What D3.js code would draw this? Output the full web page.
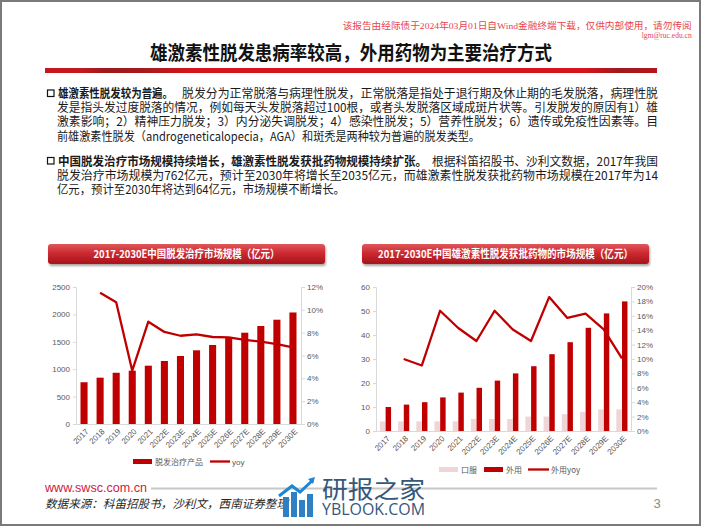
<!DOCTYPE html>
<html><head><meta charset="utf-8">
<script src="https://cdn.jsdelivr.net/npm/d3@7"></script>
<style>body{margin:0;background:#fff;} svg{display:block;}</style>
</head><body>
<svg id="c" width="702" height="527"></svg>
<script>
// ---------------- data ----------------
const years = ["2017","2018","2019","2020","2021","2022E","2023E","2024E","2025E","2026E","2027E","2028E","2029E","2030E"];
const marketSize = [762,845,935,973,1064,1150,1241,1345,1442,1575,1666,1788,1903,2035];
const marketYoy = [null,0.115,0.1066,0.0467,0.0896,0.0806,0.0773,0.0785,0.0762,0.0759,0.0736,0.0721,0.070,0.0672];
const oralSize = [4,4,4,4,4,5,5,5,6,6,7,8,9,9];
const topicalSize = [10,11,12,14,16,18,21,24,27,32,37,43,49,54];
const topicalYoy = [null,0.100,0.091,0.167,0.143,0.125,0.167,0.141,0.125,0.186,0.157,0.163,0.141,0.101];
const leftTicks = [0,500,1000,1500,2000,2500];
const leftPctTicks = [0,0.02,0.04,0.06,0.08,0.10,0.12];
const rightTicks = [0,10,20,30,40,50,60];
const rightPctTicks = [0,0.02,0.04,0.06,0.08,0.10,0.12,0.14,0.16,0.18,0.20];
const chart1Title = "2017-2030E中国脱发治疗市场规模（亿元）";
const chart2Title = "2017-2030E中国雄激素性脱发获批药物的市场规模（亿元）";
const legend1 = ["脱发治疗产品","yoy"];
const legend2 = ["口服","外用","外用yoy"];

const CJK = "'Noto Sans CJK SC','Noto Sans',sans-serif";
const NUM = "'Liberation Sans','Noto Sans CJK SC',sans-serif";
const RED = "#c00000";
const PINK = "#f0d5d7";
const AXC = "#d9d9d9";
const TXC = "#595959";

const svg = d3.select("#c");
svg.append("rect").attr("width",702).attr("height",527).attr("fill","#fff");
const defs = svg.append("defs");

// gradients
const gBar = defs.append("linearGradient").attr("id","titleBar").attr("x1","0").attr("x2","1").attr("y1","0").attr("y2","0");
[[0,"#c8161d"],[0.06,"#c01a1f"],[0.1,"#9a1a1d"],[0.17,"#a81a1e"],[0.24,"#d6141c"],[0.88,"#d6141c"],[0.94,"#9e1a1e"],[1,"#b4161c"]]
  .forEach(s=>gBar.append("stop").attr("offset",s[0]).attr("stop-color",s[1]));
const gBan = defs.append("linearGradient").attr("id","banner").attr("x1","0").attr("x2","0").attr("y1","0").attr("y2","1");
[[0,"#e0575b"],[0.45,"#cc2a30"],[1,"#a8141a"]].forEach(s=>gBan.append("stop").attr("offset",s[0]).attr("stop-color",s[1]));
const sh = defs.append("filter").attr("id","shadow").attr("x","-5%").attr("y","-30%").attr("width","110%").attr("height","180%");
sh.append("feDropShadow").attr("dx",1).attr("dy",2).attr("stdDeviation",1.3).attr("flood-color","#000").attr("flood-opacity",0.35);

// border
svg.append("rect").attr("x",1).attr("y",1).attr("width",699).attr("height",524)
  .attr("fill","none").attr("stroke","#7a7a7a").attr("stroke-width",2);

function txt(x,y,s,o){
  o=o||{};
  const t=svg.append("text").attr("x",x).attr("y",y).text(s)
    .style("font-family",o.family||CJK).style("font-size",(o.size||12)+"px")
    .style("font-weight",o.weight||"normal").style("font-style",o.style||"normal")
    .attr("fill",o.fill||"#1a1a1a").attr("text-anchor",o.anchor||"start");
  if(o.len){t.attr("textLength",o.len).attr("lengthAdjust","spacingAndGlyphs");}
  return t;
}

// watermark top
txt(691.7,28.5,"该报告由经际债于2024年03月01日自Wind金融终端下载，仅供内部使用，请勿传阅",
  {family:"'Liberation Serif','DejaVu Serif','Noto Sans CJK SC',serif",size:9,fill:"#e8434c",anchor:"end",len:349});
txt(691.7,38,"lgm@ruc.edu.cn",{family:"'Liberation Serif','DejaVu Serif',serif",size:8.5,fill:"#e8434c",anchor:"end",len:50});

// title
txt(150,59.5,"雄激素性脱发患病率较高，外用药物为主要治疗方式",{size:19,weight:"bold",fill:"#111",len:402});
svg.append("rect").attr("x",45).attr("y",68).attr("width",612).attr("height",5).attr("fill","url(#titleBar)");

// bullet paragraphs
function bullet(y){ svg.append("rect").attr("x",47.5).attr("y",y-3.5).attr("width",6.5).attr("height",6.5)
  .attr("fill","none").attr("stroke","#111").attr("stroke-width",1.2); }
bullet(93.5);
txt(58,98,"雄激素性脱发较为普遍。",{weight:"bold",len:115});
txt(182,98,"脱发分为正常脱落与病理性脱发，正常脱落是指处于退行期及休止期的毛发脱落，病理性脱",{len:476});
txt(57,112.2,"发是指头发过度脱落的情况，例如每天头发脱落超过100根，或者头发脱落区域成斑片状等。引发脱发的原因有1）雄",{len:601});
txt(57,126.4,"激素影响；2）精神压力脱发；3）内分泌失调脱发；4）感染性脱发；5）营养性脱发；6）遗传或免疫性因素等。目",{len:601});
txt(57,140.6,"前雄激素性脱发（androgeneticalopecia，AGA）和斑秃是两种较为普遍的脱发类型。",{len:423});
bullet(161);
txt(58,165.7,"中国脱发治疗市场规模持续增长，雄激素性脱发获批药物规模持续扩张。",{weight:"bold",len:369});
txt(432,165.7,"根据科笛招股书、沙利文数据，2017年我国",{len:226});
txt(57,179.9,"脱发治疗市场规模为762亿元，预计至2030年将增长至2035亿元，而雄激素性脱发获批药物市场规模在2017年为14",{len:601});
txt(57,194.1,"亿元，预计至2030年将达到64亿元，市场规模不断增长。",{len:288});

// banners
function banner(x,w,label,len){
  svg.append("rect").attr("x",x).attr("y",244).attr("width",w).attr("height",20).attr("rx",3)
    .attr("fill","url(#banner)").attr("filter","url(#shadow)");
  txt(x+w/2,258,label,{size:11,weight:"bold",fill:"#fff",anchor:"middle",len:len});
}
banner(48,277,chart1Title,186);
banner(362,287,chart2Title,255);

function styleAxis(g){
  g.selectAll(".domain").attr("stroke",AXC);
  g.selectAll(".tick line").attr("stroke",AXC);
  g.selectAll("text").attr("fill",TXC).style("font-family",NUM).style("font-size","8px");
}

// ---------- chart 1 ----------
const x1 = d3.scaleBand().domain(years).range([76,301]).paddingInner(0.56).paddingOuter(0.28);
const c1 = d=>x1(d)+x1.bandwidth()/2;
const y1 = d3.scaleLinear().domain([0,2500]).range([424,287]);
const y1r = d3.scaleLinear().domain([0,0.12]).range([424,287]);

svg.append("g").selectAll("rect").data(marketSize).join("rect")
  .attr("x",(d,i)=>x1(years[i])).attr("y",d=>y1(d)).attr("width",x1.bandwidth())
  .attr("height",d=>y1(0)-y1(d)).attr("fill",RED);

const ax1l = svg.append("g").attr("transform","translate(76,0)")
  .call(d3.axisLeft(y1).tickValues(leftTicks).tickSize(3).tickPadding(3).tickFormat(d3.format("d")));
styleAxis(ax1l);
const ax1r = svg.append("g").attr("transform","translate(301,0)")
  .call(d3.axisRight(y1r).tickValues(leftPctTicks).tickSize(4).tickPadding(2).tickFormat(d3.format(".0%")));
styleAxis(ax1r);
const ax1b = svg.append("g").attr("transform","translate(0,424)")
  .call(d3.axisBottom(x1).tickSize(0).tickSizeOuter(0));
styleAxis(ax1b);
ax1b.select(".domain").attr("d","M76,0.5H301");
ax1b.selectAll("text").attr("y",0).attr("dy","0.35em").attr("transform","translate(3,6) rotate(-45)").style("text-anchor","end");

const line1 = d3.line().defined(d=>d!=null).x((d,i)=>c1(years[i])).y(d=>y1r(d));
svg.append("path").attr("d",line1(marketYoy)).attr("fill","none").attr("stroke",RED).attr("stroke-width",2.3).attr("stroke-linejoin","round");

// legend 1
svg.append("rect").attr("x",133).attr("y",459).attr("width",19).attr("height",5).attr("fill",RED);
txt(155,464.5,legend1[0],{size:8,fill:TXC});
svg.append("line").attr("x1",210).attr("x2",230).attr("y1",461.5).attr("y2",461.5).attr("stroke",RED).attr("stroke-width",2.3);
txt(232,464.5,legend1[1],{size:8,fill:TXC,family:NUM});

// ---------- chart 2 ----------
const x2 = d3.scaleBand().domain(years).range([376.4,631]).padding(0);
const x2s = d3.scaleBand().domain(["oral","topical"]).range([0,x2.bandwidth()]).paddingInner(0.04).paddingOuter(0.62);
const c2 = d=>x2(d)+x2.bandwidth()/2;
const y2 = d3.scaleLinear().domain([0,60]).range([431,287]);
const y2r = d3.scaleLinear().domain([0,0.2]).range([431,287]);

svg.append("g").selectAll("rect").data(oralSize).join("rect")
  .attr("x",(d,i)=>x2(years[i])+x2s("oral")).attr("y",d=>y2(d)).attr("width",x2s.bandwidth())
  .attr("height",d=>y2(0)-y2(d)).attr("fill",PINK);
svg.append("g").selectAll("rect").data(topicalSize).join("rect")
  .attr("x",(d,i)=>x2(years[i])+x2s("topical")).attr("y",d=>y2(d)).attr("width",x2s.bandwidth())
  .attr("height",d=>y2(0)-y2(d)).attr("fill",RED);

const ax2l = svg.append("g").attr("transform","translate(376,0)")
  .call(d3.axisLeft(y2).tickValues(rightTicks).tickSize(3).tickPadding(3).tickFormat(d3.format("d")));
styleAxis(ax2l);
const ax2r = svg.append("g").attr("transform","translate(631,0)")
  .call(d3.axisRight(y2r).tickValues(rightPctTicks).tickSize(4).tickPadding(2).tickFormat(d3.format(".0%")));
styleAxis(ax2r);
const ax2b = svg.append("g").attr("transform","translate(0,431)")
  .call(d3.axisBottom(x2).tickSize(0).tickSizeOuter(0));
styleAxis(ax2b);
ax2b.select(".domain").attr("d","M376,0.5H631");
ax2b.selectAll("text").attr("y",0).attr("dy","0.35em").attr("transform","translate(3,6) rotate(-45)").style("text-anchor","end");

const line2 = d3.line().defined(d=>d!=null).x((d,i)=>c2(years[i])).y(d=>y2r(d));
svg.append("path").attr("d",line2(topicalYoy)).attr("fill","none").attr("stroke",RED).attr("stroke-width",2.3).attr("stroke-linejoin","round");

// legend 2
svg.append("rect").attr("x",439).attr("y",467).attr("width",19).attr("height",5).attr("fill",PINK);
txt(461,472.5,legend2[0],{size:8,fill:TXC});
svg.append("rect").attr("x",484).attr("y",467).attr("width",19).attr("height",5).attr("fill",RED);
txt(506,472.5,legend2[1],{size:8,fill:TXC});
svg.append("line").attr("x1",528).attr("x2",549).attr("y1",469.5).attr("y2",469.5).attr("stroke",RED).attr("stroke-width",2.3);
txt(551,472.5,legend2[2],{size:8,fill:TXC});

// ---------- footer ----------
txt(45,492,"www.swsc.com.cn",{family:NUM,size:12.5,fill:"#d0203a",len:102});
svg.append("line").attr("x1",151).attr("x2",657).attr("y1",488.5).attr("y2",488.5).attr("stroke","#c8c8c8").attr("stroke-width",2);
txt(45,507.5,"数据来源：科笛招股书，沙利文，西南证券整理",{size:11.5,style:"italic",fill:"#262626",len:243});
txt(657,508,"3",{family:NUM,size:13,fill:"#8a8a8a",anchor:"middle"});

// logo watermark
const lg = svg.append("g");
[[283,497,6,20],[291,492,6,25],[299,500,6,17],[307,494,6,23]].forEach(b=>{
  lg.append("rect").attr("x",b[0]).attr("y",b[1]).attr("width",b[2]).attr("height",b[3]).attr("fill","#2f7fc4");
});
lg.append("path").attr("d","M279,496 L292,486 L300,492 L313,480").attr("fill","none").attr("stroke","#1c86d6").attr("stroke-width",3);
lg.append("path").attr("d","M308,479 L315,477 L313,484 Z").attr("fill","#1c86d6");
txt(322,498,"研报之家",{size:24,fill:"#34587c",len:103});
txt(322,515,"YBLOOK.COM",{family:"'Open Sans','Noto Sans',sans-serif",size:16,fill:"#34587c",len:103});
</script>
</body></html>
